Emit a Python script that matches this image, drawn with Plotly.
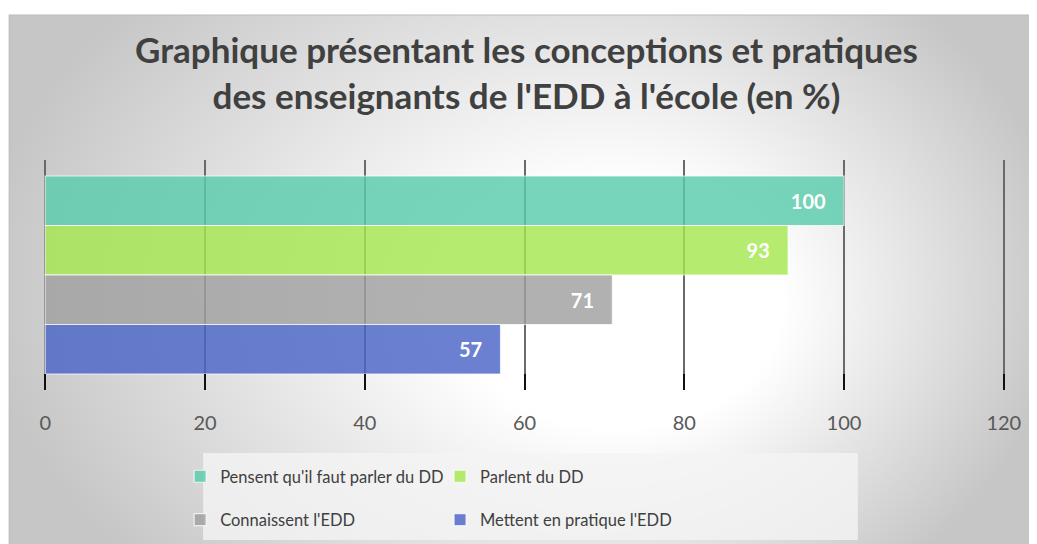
import base64
import plotly.graph_objects as go

# ---- data ----
series_names = ["Pensent qu'il faut parler du DD", "Parlent du DD",
                "Connaissent l'EDD", "Mettent en pratique l'EDD"]
values = [100, 93, 71, 57]
colors = ["rgba(88,204,171,0.82)", "rgba(165,232,80,0.82)",
          "rgba(160,160,160,0.82)", "rgba(76,100,200,0.82)"]
x_ticks = [0, 20, 40, 60, 80, 100, 120]
title_text = "Graphique présentant les conceptions et pratiques<br>des enseignants de l'EDD à l'école (en %)"

W, H = 1037, 544
S = 8  # page body margin: screen = page + S
X0, X120 = 45 - S, 1004 - S          # page px of 0 and 120
k = (X120 - X0) / 120.0
XMIN, XMAX = -0.15, 120.15
L, R = X0 + XMIN * k, X120 + (XMAX - 120) * k
T, B = 160 - S, 390 - S


def px(sx):  # screen x -> paper x
    return (sx - S - L) / (R - L)


def py(sy):  # screen y -> paper y
    return (B - (sy - S)) / (B - T)


FONT = "Lato"

fig = go.Figure()
legend_of = ["legend", "legend2", "legend", "legend2"]
for i, (name, v, c) in enumerate(zip(series_names, values, colors)):
    fig.add_trace(go.Bar(
        y=[""], x=[v], name=name, orientation="h",
        marker=dict(color=c, line=dict(color="rgba(255,255,255,0.75)", width=1.2)),
        texttemplate="<b>%{x}</b>\u00a0\u00a0\u00a0", textposition="inside",
        insidetextanchor="end", textangle=0, constraintext="none",
        textfont=dict(color="white", size=20, family=FONT),
        legend=legend_of[i], legendgroup=f"g{i}",
        hoverinfo="x+name",
    ))

# radial gradient background as SVG image (image spans screen x 9.., y 15..)
ix0, iy0 = 9, 15
iw, ih = W + S - ix0, H + S - iy0
cx, cy, r = 524 - ix0, 280 - iy0, 540
fx, fy = 660 - ix0, 330 - iy0
svg = (f'<svg xmlns="http://www.w3.org/2000/svg" width="{iw}" height="{ih}" viewBox="0 0 {iw} {ih}" preserveAspectRatio="none">'
       f'<defs><radialGradient id="g" gradientUnits="userSpaceOnUse" cx="{cx}" cy="{cy}" r="{r}" fx="{fx}" fy="{fy}" '
       f'gradientTransform="translate({cx} {cy}) scale(1 0.75) translate({-cx} {-cy})">'
       f'<stop offset="0" stop-color="#ffffff"/><stop offset="0.3" stop-color="#ffffff"/>'
       f'<stop offset="1" stop-color="#c6c6c6"/></radialGradient></defs>'
       f'<rect width="{iw}" height="{ih}" fill="url(#g)"/></svg>')
uri = "data:image/svg+xml;base64," + base64.b64encode(svg.encode()).decode()

legend_font = dict(family=FONT, size=16.5, color="#404040")

fig.update_layout(
    width=W, height=H,
    margin=dict(l=L, r=W - R, t=T, b=H - B, autoexpand=False),
    paper_bgcolor="white", plot_bgcolor="rgba(0,0,0,0)",
    barmode="group", bargap=0.139, bargroupgap=0,
    title=dict(text=f"<b>{title_text}</b>", x=0.5, xref="container",
               y=1 - 55 / H, yref="container", yanchor="top", xanchor="center",
               font=dict(family=FONT, size=35, color="#404040")),
    font=dict(family=FONT, color="#595959"),
    xaxis=dict(range=[XMIN, XMAX], tickvals=x_ticks, showgrid=True,
               gridcolor="#6a6a6a", gridwidth=1.5, zeroline=False, showline=False,
               ticks="inside", ticklen=16, tickcolor="#111111", tickwidth=1.5,
               ticklabelstandoff=19,
               tickfont=dict(family=FONT, size=20, color="#595959")),
    yaxis=dict(range=[0.5, -0.5], showticklabels=False, showgrid=False,
               zeroline=False, showline=False, fixedrange=True),
    legend=dict(orientation="v", x=px(180), xanchor="left", y=py(459), yanchor="top",
                bgcolor="rgba(0,0,0,0)", tracegroupgap=19, font=legend_font),
    legend2=dict(orientation="v", x=px(440), xanchor="left", y=py(459), yanchor="top",
                 bgcolor="rgba(0,0,0,0)", tracegroupgap=19, font=legend_font),
    images=[dict(source=uri, xref="paper", yref="paper", x=px(ix0), y=py(iy0),
                 sizex=px(W + S) - px(ix0), sizey=py(iy0) - py(H + S),
                 xanchor="left", yanchor="top", sizing="stretch", layer="below")],
    shapes=[
        dict(type="rect", xref="paper", yref="paper", x0=px(ix0), x1=px(W + S + 5),
             y0=py(iy0), y1=py(H + S + 5), line=dict(color="#bcbcbc", width=1.2),
             fillcolor="rgba(0,0,0,0)", layer="below"),
        dict(type="rect", xref="paper", yref="paper", x0=px(203), x1=px(858),
             y0=py(453), y1=py(540), line=dict(width=0),
             fillcolor="rgba(244,244,244,0.8)", layer="below"),
    ],
)

fig.write_html("out.html")
